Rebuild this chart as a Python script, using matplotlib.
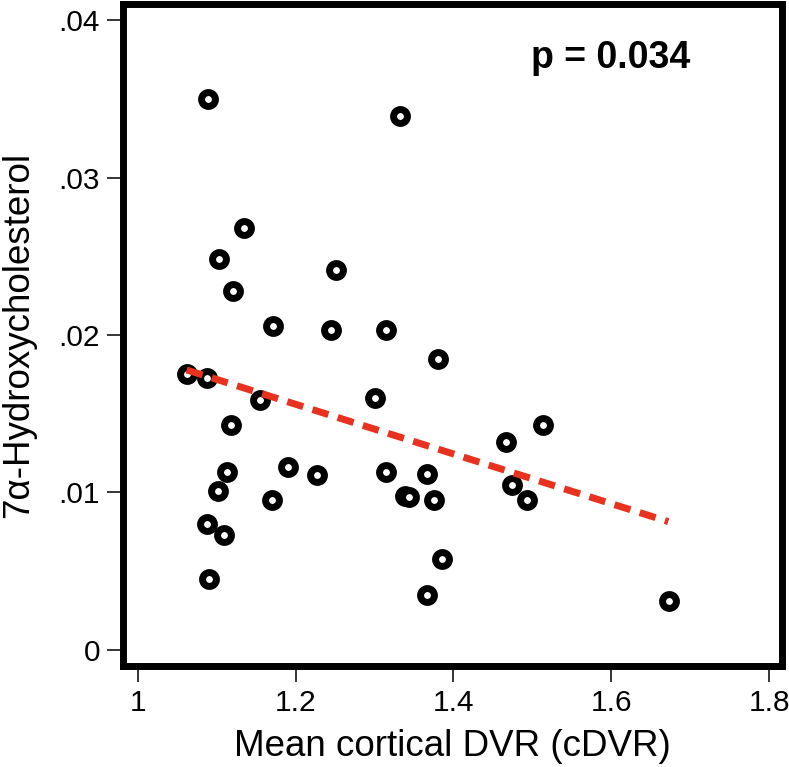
import numpy as np
import matplotlib.pyplot as plt

plt.rcParams['font.family'] = ['Liberation Sans', 'DejaVu Sans']

# cortical DVR values (x) and 7a-hydroxycholesterol (y)
cdvr = [1.089, 1.332, 1.135, 1.103, 1.251, 1.121, 1.171, 1.245, 1.314, 1.380,
        1.063, 1.088, 1.155, 1.301, 1.118, 1.513, 1.467, 1.113, 1.190, 1.227,
        1.314, 1.366, 1.474, 1.102, 1.170, 1.339, 1.344, 1.375, 1.493, 1.088,
        1.109, 1.385, 1.090, 1.366, 1.673]
hydroxy = [0.0350, 0.0339, 0.0268, 0.0248, 0.0241, 0.0228, 0.0206, 0.0203, 0.0203, 0.0185,
           0.0175, 0.0173, 0.0159, 0.0160, 0.0143, 0.0143, 0.0132, 0.0113, 0.0116, 0.0111,
           0.0113, 0.0112, 0.0105, 0.0101, 0.0095, 0.0098, 0.0097, 0.0095, 0.0095, 0.0080,
           0.0073, 0.0058, 0.0045, 0.0035, 0.0031]

# fitted line end points
fit_x = [1.062, 1.672]
fit_y = [0.01778, 0.00815]

xticks = [1, 1.2, 1.4, 1.6, 1.8]
xticklabels = ['1', '1.2', '1.4', '1.6', '1.8']
yticks = [0, 0.01, 0.02, 0.03, 0.04]
yticklabels = ['0', '.01', '.02', '.03', '.04']

fig = plt.figure(figsize=(7.89, 7.67), dpi=100)
ax = fig.add_axes([123/789, 1-666/767, (782-123)/789, (666-3.5)/767])

ax.plot(cdvr, hydroxy, 'o', ms=10, mew=5, mfc='white', mec='black', zorder=3)
ax.plot(fit_x, fit_y, color='#e8321f', lw=5, dashes=(2.4, 1.4),
        dash_capstyle='butt', zorder=4)

ax.set_xlim(0.9814, 1.8161)
ax.set_ylim(-0.00102, 0.04105)
ax.set_xticks(xticks)
ax.set_xticklabels(xticklabels)
ax.set_yticks(yticks)
ax.set_yticklabels(yticklabels)
ax.tick_params(direction='out', length=11.5, width=1.1, labelsize=21.5, pad=5)

for s in ax.spines.values():
    s.set_linewidth(5)

ax.set_xlabel('Mean cortical DVR (cDVR)', fontsize=26.5, labelpad=9)
ax.set_ylabel('7α-Hydroxycholesterol', fontsize=26.5, labelpad=16)

ax.text(0.7405, 0.9026, 'p = 0.034', transform=ax.transAxes, fontsize=27,
        fontweight='bold', ha='center', va='baseline')

plt.savefig('out.png', dpi=100)
